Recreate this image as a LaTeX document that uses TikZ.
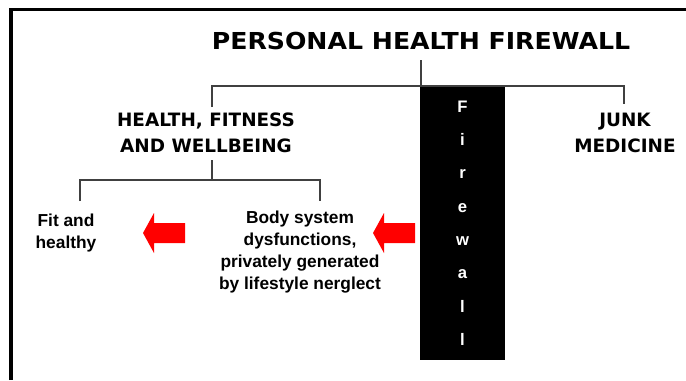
\documentclass[tikz,border=0pt]{standalone}
\usepackage{fontspec}
\setmainfont{Liberation Sans}
\newfontfamily\headfont{DejaVu Sans}
\newfontfamily\titlefont{DejaVu Sans}[FakeStretch=1.08]
\usepackage{xcolor}
\usepackage{tikz}
\usetikzlibrary{arrows.meta,positioning,calc}

\tikzset{
  tree/.style={draw=black!75,line width=1.4pt},
  heading/.style={align=center,inner sep=0pt,font=\fontsize{13.8}{19.5}\selectfont\headfont\bfseries},
  smalltext/.style={align=center,inner sep=0pt,font=\fontsize{13}{16.3}\selectfont\bfseries},
  leftarrow/.pic={\fill[red] (0,-10) -- (-31,-10) -- (-31,-20) -- (-42,0) -- (-31,20) -- (-31,10) -- (0,10) -- cycle;}
}

\begin{document}
\begin{tikzpicture}[x=0.75pt,y=-0.75pt,>=Latex]
  \useasboundingbox (0,0) rectangle (686,380);
  \draw[line width=2.3pt] (11,380) -- (11,9.5) -- (686,9.5);

  \node[inner sep=0pt,font=\fontsize{17.5}{20}\selectfont\titlefont\bfseries] (title)
    at (421,41) {PERSONAL HEALTH FIREWALL};

  \node[fill=black,minimum width=63.75pt,minimum height=205.5pt,inner sep=0pt,
    text=white,align=center,font=\fontsize{12.5}{25}\selectfont\bfseries] (firewall)
    at (462.5,223) {F\\i\\r\\e\\w\\a\\l\\l};

  \node[heading] (health) at (206,133) {HEALTH, FITNESS\\AND WELLBEING};
  \node[heading] (junk) at (625,133) {JUNK\\MEDICINE};

  \node[smalltext] (fit) at (66,233) {Fit and\\healthy};
  \node[smalltext] (body) at (300,252) {Body system\\dysfunctions,\\privately generated\\by lifestyle nerglect};

  % brackets
  \coordinate (bar) at (421,86);
  \coordinate (healthtop) at (212,107);
  \coordinate (junktop) at (624,104);
  \coordinate (healthbot) at (212,160);
  \coordinate (split) at (212,180);
  \coordinate (fittop) at (80,201);
  \coordinate (bodytop) at (320,201);

  \draw[tree] (title.south |- 0,60) -- (bar);
  \draw[tree] (healthtop) |- (bar) -| (junktop);
  \draw[tree] (healthbot) -- (split);
  \draw[tree] (fittop) |- (split) -| (bodytop);

  \pic at (185,233) {leftarrow};
  \pic at (415,233) {leftarrow};
\end{tikzpicture}
\end{document}
